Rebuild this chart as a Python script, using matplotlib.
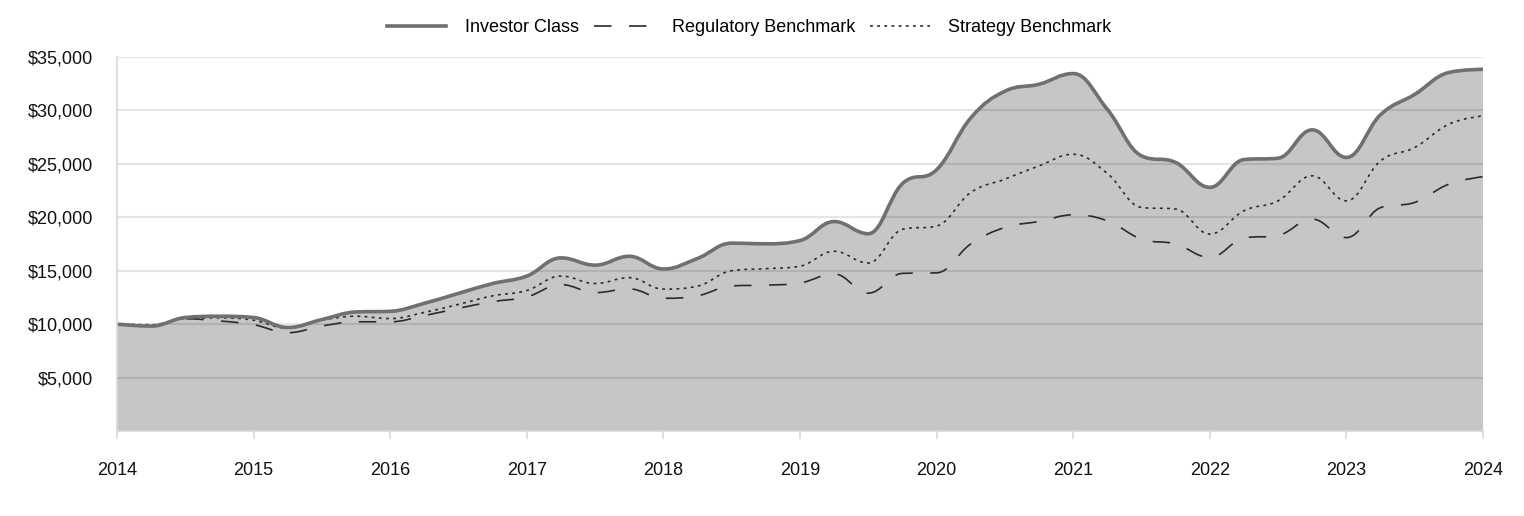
import numpy as np
import matplotlib
matplotlib.use("Agg")
import matplotlib.pyplot as plt
from matplotlib.path import Path
from matplotlib.patches import PathPatch
from matplotlib.lines import Line2D
from matplotlib.ticker import FuncFormatter

plt.rcParams['font.family'] = ['Liberation Sans', 'DejaVu Sans']

# quarterly dates 2014.00 .. 2024.00
dates = np.arange(41) / 4.0 + 2014.0

investor = [10000, 9815, 10620, 10740, 10620, 9690, 10430, 11140, 11200, 11950,
            12880, 13800, 14500, 16200, 15520, 16350, 15160, 16150, 17580, 17520,
            17820, 19600, 18460, 23150, 24450, 29300, 31800, 32450, 33450, 30100,
            25750, 25130, 22800, 25400, 25530, 28180, 25600, 29600, 31500, 33550,
            33850]
regulatory = [10000, 9900, 10500, 10300, 9950, 9200, 9820, 10220, 10220, 10800,
              11480, 12100, 12550, 13700, 12950, 13300, 12420, 12650, 13580, 13650,
              13850, 14700, 12900, 14750, 14800, 17500, 19050, 19610, 20230, 19670,
              17960, 17500, 16250, 18050, 18300, 19830, 18100, 20900, 21390, 23100,
              23800]
strategy = [10000, 9950, 10520, 10590, 10370, 9620, 10370, 10740, 10520, 11100,
            11850, 12650, 13150, 14500, 13800, 14350, 13280, 13560, 15000, 15190,
            15420, 16820, 15720, 18870, 19180, 22320, 23570, 24810, 25900, 24100,
            20920, 20770, 18430, 20610, 21540, 23880, 21540, 25280, 26530, 28710,
            29490]

series_names = ["Investor Class", "Regulatory Benchmark", "Strategy Benchmark"]
year_ticks = list(range(2014, 2025))
y_ticks = [5000, 10000, 15000, 20000, 25000, 30000, 35000]


def spline_path(x, y, close_to=None):
    """Highcharts-style spline through the points as cubic Bezier segments."""
    x = np.asarray(x, float)
    y = np.asarray(y, float)
    n = len(x)
    sm, den = 1.5, 2.5
    lc = [(x[i], y[i]) for i in range(n)]
    rc = [(x[i], y[i]) for i in range(n)]
    for i in range(1, n - 1):
        lx = (sm * x[i] + x[i - 1]) / den
        ly = (sm * y[i] + y[i - 1]) / den
        rx = (sm * x[i] + x[i + 1]) / den
        ry = (sm * y[i] + y[i + 1]) / den
        if rx != lx:
            corr = ((ry - ly) * (rx - x[i])) / (rx - lx) + y[i] - ry
            ly += corr
            ry += corr
        if ly > y[i - 1] and ly > y[i]:
            ly = max(y[i - 1], y[i]); ry = 2 * y[i] - ly
        elif ly < y[i - 1] and ly < y[i]:
            ly = min(y[i - 1], y[i]); ry = 2 * y[i] - ly
        if ry > y[i + 1] and ry > y[i]:
            ry = max(y[i + 1], y[i]); ly = 2 * y[i] - ry
        elif ry < y[i + 1] and ry < y[i]:
            ry = min(y[i + 1], y[i]); ly = 2 * y[i] - ry
        lc[i] = (lx, ly); rc[i] = (rx, ry)
    verts = [(x[0], y[0])]
    codes = [Path.MOVETO]
    for i in range(n - 1):
        verts += [rc[i], lc[i + 1], (x[i + 1], y[i + 1])]
        codes += [Path.CURVE4] * 3
    if close_to is not None:
        verts += [(x[-1], close_to), (x[0], close_to), (x[0], y[0])]
        codes += [Path.LINETO, Path.LINETO, Path.CLOSEPOLY]
    return Path(verts, codes)


fig = plt.figure(figsize=(15.24, 5.16), dpi=100)
ax = fig.add_axes([117 / 1524, 1 - 431 / 516, (1483 - 117) / 1524, (431 - 57) / 516])

ax.set_xlim(2014, 2024)
ax.set_ylim(0, 35000)

# area fill under investor class
ax.add_patch(PathPatch(spline_path(dates, investor, close_to=0), facecolor='#c6c6c6',
                       edgecolor='none', zorder=1))

# grid lines (semi-transparent so they show on the fill)
for v in y_ticks:
    ax.axhline(v, color=(0, 0, 0, 0.10), lw=1.5, zorder=2)

dash_style = (0, (10.5, 10.5))
dot_style = (0, (1.7, 2.6))

ax.add_patch(PathPatch(spline_path(dates, regulatory), facecolor='none', edgecolor='#2b2b2b',
                       lw=1.2, linestyle=dash_style, zorder=3, capstyle='butt'))
ax.add_patch(PathPatch(spline_path(dates, strategy), facecolor='none', edgecolor='#2b2b2b',
                       lw=1.2, linestyle=dot_style, zorder=3, capstyle='butt'))
ax.add_patch(PathPatch(spline_path(dates, investor), facecolor='none', edgecolor='#707070',
                       lw=2.6, zorder=4, joinstyle='round', capstyle='round'))

for s in ['top', 'right']:
    ax.spines[s].set_visible(False)
for s in ['left', 'bottom']:
    ax.spines[s].set_color('#d8d8d8')
    ax.spines[s].set_linewidth(1.2)
    ax.spines[s].set_zorder(5)

ax.set_xticks(year_ticks)
ax.set_xticklabels([str(y) for y in year_ticks])
ax.set_yticks(y_ticks)
ax.yaxis.set_major_formatter(FuncFormatter(lambda v, p: "${:,.0f}".format(v)))
ax.tick_params(axis='x', length=6, width=1.2, color='#d8d8d8', pad=16, labelsize=13,
               labelcolor='#111111')
ax.tick_params(axis='y', length=0, pad=17, labelsize=13, labelcolor='#111111')

handles = [Line2D([], [], color='#707070', lw=2.6),
           Line2D([], [], color='#2b2b2b', lw=1.2, linestyle=dash_style),
           Line2D([], [], color='#2b2b2b', lw=1.2, linestyle=dot_style)]
fig.legend(handles, series_names, loc='center', bbox_to_anchor=(749 / 1524, 1 - 28 / 516),
           ncol=3, frameon=False, fontsize=13, handlelength=3.3, handletextpad=1.0,
           columnspacing=0.85)

fig.savefig("out.png", dpi=100)
